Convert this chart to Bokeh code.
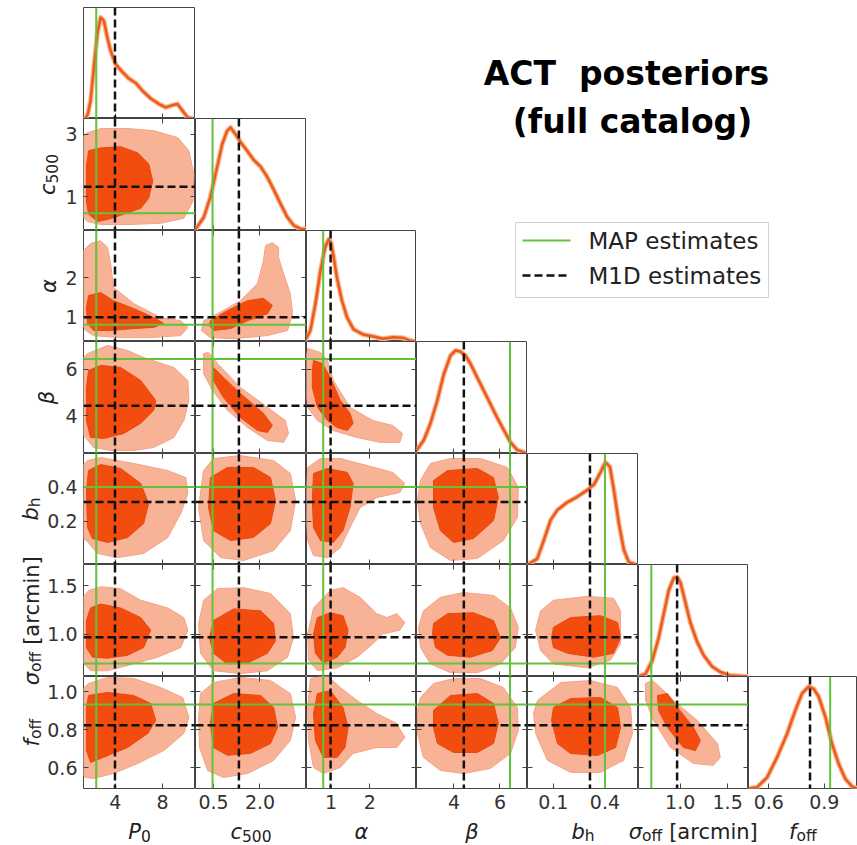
import math
from bokeh.plotting import figure
from bokeh.models import (Range1d, LinearAxis, FixedTicker, NumeralTickFormatter,
                          Span, GridBox)
from bokeh.core.properties import value
from bokeh.embed import file_html
from bokeh.resources import INLINE

# ---------------- data ----------------
PARAM_RANGES = [(1.3, 10.8), (-0.08, 3.5), (0.37, 3.2), (2.37, 7.2),
                (-0.05, 0.595), (0.56, 1.72), (0.49, 1.08)]
X_TICKS = [[4, 8], [0.5, 2.0], [1, 2], [4, 6], [0.1, 0.4], [1.0, 1.5], [0.6, 0.9]]
Y_TICKS = [[], [1, 3], [1, 2], [4, 6], [0.2, 0.4], [1.0, 1.5], [0.6, 0.8, 1.0]]
X_FMT = ["0", "0.0", "0", "0", "0.0", "0.0", "0.0"]
Y_FMT = ["0", "0", "0", "0", "0.0", "0.0", "0.0"]

MAP_VALUES = [2.38, 0.47, 0.80, 6.44, 0.40, 0.695, 0.932]
M1D_VALUES = [3.97, 1.32, 0.99, 4.43, 0.313, 0.967, 0.823]

# 1D marginals (normalised density)
P0_X = [1.47, 1.67, 1.9, 2.18, 2.47, 2.75, 3.03, 3.32, 3.6, 4.02, 4.59, 5.15, 5.73, 6.3, 7.0, 7.71, 8.28, 8.85, 9.27, 9.7, 10.13, 10.55]
P0_D = [0.0, 0.042, 0.16, 0.46, 0.76, 0.91, 0.88, 0.73, 0.61, 0.49, 0.42, 0.36, 0.32, 0.25, 0.18, 0.13, 0.10, 0.12, 0.13, 0.07, 0.01, 0.0]
C500_X = [-0.08, 0.19, 0.4, 0.62, 0.78, 0.94, 1.05, 1.21, 1.37, 1.59, 1.8, 2.02, 2.23, 2.45, 2.66, 2.88, 3.09, 3.31, 3.49]
C500_D = [0.01, 0.12, 0.30, 0.57, 0.77, 0.89, 0.92, 0.86, 0.79, 0.71, 0.63, 0.57, 0.48, 0.36, 0.24, 0.12, 0.045, 0.015, 0.01]
ALPHA_X = [0.34, 0.47, 0.6, 0.73, 0.85, 0.94, 1.0, 1.07, 1.15, 1.28, 1.41, 1.58, 1.83, 2.09, 2.34, 2.6, 2.85, 3.02, 3.15]
ALPHA_D = [0.01, 0.1, 0.34, 0.64, 0.85, 0.92, 0.89, 0.76, 0.58, 0.37, 0.22, 0.11, 0.063, 0.045, 0.024, 0.039, 0.033, 0.01, 0.003]
BETA_X = [2.37, 2.69, 2.98, 3.27, 3.56, 3.85, 4.07, 4.28, 4.5, 4.72, 5.01, 5.3, 5.59, 5.88, 6.17, 6.46, 6.75, 7.11]
BETA_D = [0.027, 0.12, 0.27, 0.47, 0.71, 0.875, 0.92, 0.91, 0.875, 0.8, 0.68, 0.56, 0.44, 0.32, 0.21, 0.1, 0.033, 0.006]
BH_X = [-0.042, 0.006, 0.045, 0.084, 0.123, 0.181, 0.239, 0.297, 0.336, 0.374, 0.403, 0.429, 0.452, 0.481, 0.51, 0.539, 0.578]
BH_D = [0.006, 0.05, 0.22, 0.4, 0.49, 0.56, 0.61, 0.67, 0.72, 0.83, 0.92, 0.88, 0.67, 0.37, 0.13, 0.02, 0.0]
SOFF_X = [0.563, 0.634, 0.704, 0.774, 0.826, 0.879, 0.932, 0.967, 1.002, 1.055, 1.107, 1.178, 1.247, 1.336, 1.423, 1.528, 1.72]
SOFF_D = [0.0, 0.024, 0.14, 0.35, 0.56, 0.77, 0.88, 0.89, 0.84, 0.66, 0.48, 0.31, 0.19, 0.09, 0.04, 0.009, 0.0]
FOFF_X = [0.492, 0.537, 0.591, 0.645, 0.699, 0.744, 0.78, 0.816, 0.843, 0.87, 0.906, 0.942, 0.978, 1.014, 1.05, 1.077]
FOFF_D = [0.0, 0.012, 0.1, 0.28, 0.49, 0.7, 0.85, 0.91, 0.89, 0.82, 0.64, 0.4, 0.22, 0.087, 0.018, 0.0]

# 2D credible contours (95% light, 68% dark), (x, y) in parameter units
C_P0_C500_95 = [(1.47, 3.02), (2.75, 3.18), (5.04, 3.18), (7.26, 3.11), (9.3, 2.89), (10.24, 2.47), (10.66, 1.73), (10.58, 0.85), (9.81, 0.31), (7.85, 0.15), (5.04, 0.11), (2.75, 0.11), (1.64, 0.21), (1.05, 0.44), (1.05, 2.79)]
C_P0_C500_68 = [(1.73, 2.47), (2.75, 2.56), (4.45, 2.6), (5.9, 2.4), (6.83, 2.05), (7.17, 1.5), (6.83, 0.95), (6.15, 0.63), (4.7, 0.44), (3.34, 0.27), (2.49, 0.21), (1.73, 0.44), (1.55, 0.85), (1.55, 1.98)]
C_P0_ALPHA_95 = [(1.9, 2.87), (2.75, 2.94), (3.34, 2.77), (3.6, 2.36), (3.85, 1.75), (5.55, 1.34), (7.85, 0.98), (9.55, 0.9), (10.15, 0.73), (9.55, 0.52), (7.0, 0.47), (4.19, 0.47), (2.15, 0.52), (1.47, 0.65), (1.05, 0.9), (1.05, 2.61)]
C_P0_ALPHA_68 = [(1.73, 1.54), (2.75, 1.62), (3.85, 1.41), (5.55, 1.21), (7.26, 0.98), (8.11, 0.83), (7.26, 0.73), (5.55, 0.7), (3.6, 0.65), (2.15, 0.65), (1.64, 0.83), (1.55, 1.24)]
C_P0_BETA_95 = [(1.64, 6.68), (3.34, 7.03), (5.04, 6.81), (6.4, 6.51), (8.96, 6.08), (10.15, 5.52), (10.24, 4.66), (9.81, 3.79), (8.96, 3.06), (7.26, 2.63), (5.55, 2.5), (3.6, 2.5), (2.15, 2.63), (1.47, 3.06), (1.05, 3.23), (1.05, 6.38)]
C_P0_BETA_68 = [(1.73, 5.95), (2.75, 6.17), (4.45, 6.08), (6.15, 5.52), (7.43, 4.66), (7.26, 4.23), (6.15, 3.67), (4.7, 3.23), (3.0, 3.02), (1.9, 3.06), (1.55, 3.79), (1.55, 5.22)]
C_P0_BH_95 = [(1.64, 0.554), (2.75, 0.572), (5.55, 0.537), (8.45, 0.496), (9.98, 0.455), (10.15, 0.362), (9.55, 0.246), (8.45, 0.107), (6.4, 0.014), (4.19, -0.01), (2.49, 0.014), (1.55, 0.089), (1.05, 0.107), (1.05, 0.514)]
C_P0_BH_68 = [(1.73, 0.496), (2.75, 0.531), (4.45, 0.508), (6.15, 0.421), (6.83, 0.304), (6.4, 0.188), (5.04, 0.107), (3.34, 0.078), (2.06, 0.101), (1.64, 0.165), (1.55, 0.38)]
C_P0_SOFF_95 = [(1.73, 1.45), (2.75, 1.49), (4.45, 1.47), (6.15, 1.35), (8.45, 1.27), (9.81, 1.17), (10.15, 1.04), (9.55, 0.86), (7.6, 0.76), (5.55, 0.69), (3.34, 0.62), (1.9, 0.62), (1.05, 0.73), (1.05, 1.35)]
C_P0_SOFF_68 = [(1.9, 1.27), (2.75, 1.31), (4.45, 1.27), (6.15, 1.17), (7.0, 1.04), (6.4, 0.86), (5.04, 0.78), (3.34, 0.75), (2.06, 0.76), (1.55, 0.86), (1.55, 1.14)]
C_P0_FOFF_95 = [(1.73, 1.043), (3.34, 1.075), (5.55, 1.07), (7.85, 1.022), (9.72, 0.969), (10.24, 0.864), (9.81, 0.78), (8.11, 0.69), (5.9, 0.622), (3.85, 0.569), (2.15, 0.543), (1.47, 0.548), (1.05, 0.569), (1.05, 1.006)]
C_P0_FOFF_68 = [(1.73, 0.98), (3.34, 0.996), (5.55, 0.98), (7.0, 0.938), (7.43, 0.848), (6.75, 0.78), (5.04, 0.706), (3.0, 0.654), (1.9, 0.627), (1.55, 0.69), (1.55, 0.917)]
C_C500_ALPHA_95 = [(0.18, 0.9), (0.63, 1.08), (1.37, 1.41), (1.92, 1.85), (2.11, 2.43), (2.18, 2.82), (2.4, 2.89), (2.6, 2.77), (2.6, 2.51), (2.76, 2.1), (2.98, 1.59), (3.05, 1.08), (2.89, 0.65), (2.24, 0.52), (1.15, 0.44), (0.4, 0.47), (0.11, 0.65)]
C_C500_ALPHA_68 = [(0.4, 0.9), (0.95, 1.16), (1.6, 1.41), (2.11, 1.47), (2.4, 1.29), (2.24, 1.08), (1.6, 0.9), (1.05, 0.7), (0.5, 0.65), (0.37, 0.78)]
C_C500_BETA_95 = [(0.18, 6.68), (0.34, 6.73), (0.63, 6.25), (1.37, 5.22), (2.24, 4.36), (2.82, 3.79), (2.92, 3.23), (2.76, 2.85), (2.24, 2.93), (1.6, 3.49), (0.95, 4.23), (0.47, 5.09), (0.18, 5.82)]
C_C500_BETA_68 = [(0.5, 6.08), (0.82, 5.65), (1.37, 4.96), (2.11, 4.1), (2.4, 3.58), (2.24, 3.28), (1.92, 3.36), (1.37, 3.92), (0.82, 4.79), (0.5, 5.52)]
C_C500_BH_95 = [(0.18, 0.496), (0.5, 0.566), (1.37, 0.583), (2.44, 0.554), (2.98, 0.479), (3.15, 0.322), (2.98, 0.147), (2.44, 0.031), (1.47, -0.027), (0.73, -0.01), (0.18, 0.089), (0.02, 0.281)]
C_C500_BH_68 = [(0.4, 0.455), (0.95, 0.514), (1.79, 0.514), (2.34, 0.455), (2.5, 0.322), (2.34, 0.188), (1.79, 0.107), (1.05, 0.089), (0.5, 0.147), (0.34, 0.281)]
C_C500_SOFF_95 = [(0.18, 1.35), (0.63, 1.47), (1.47, 1.48), (2.34, 1.42), (2.98, 1.21), (3.08, 0.96), (2.89, 0.76), (2.24, 0.62), (1.37, 0.59), (0.5, 0.62), (0.08, 0.8), (0.02, 1.11)]
C_C500_SOFF_68 = [(0.5, 1.14), (1.15, 1.26), (2.02, 1.24), (2.44, 1.11), (2.5, 0.93), (2.24, 0.8), (1.6, 0.7), (0.95, 0.69), (0.5, 0.8), (0.37, 0.96)]
C_C500_FOFF_95 = [(0.08, 0.99), (0.5, 1.048), (1.37, 1.075), (2.34, 1.059), (2.98, 0.99), (3.15, 0.864), (2.98, 0.743), (2.44, 0.638), (1.6, 0.569), (0.82, 0.548), (0.31, 0.585), (0.05, 0.706), (0.02, 0.864)]
C_C500_FOFF_68 = [(0.5, 0.938), (1.15, 0.99), (2.02, 0.98), (2.44, 0.917), (2.57, 0.812), (2.34, 0.727), (1.69, 0.675), (0.95, 0.665), (0.5, 0.706), (0.4, 0.832)]
C_ALPHA_BETA_95 = [(0.4, 6.9), (0.73, 6.73), (0.91, 6.38), (1.06, 5.52), (1.49, 4.36), (2.08, 3.79), (2.59, 3.58), (2.84, 3.23), (2.77, 2.85), (2.26, 2.85), (1.67, 3.06), (1.06, 3.36), (0.65, 3.79), (0.4, 4.36), (0.29, 5.95)]
C_ALPHA_BETA_68 = [(0.55, 6.38), (0.78, 6.25), (0.98, 5.65), (1.24, 4.66), (1.49, 4.1), (1.57, 3.67), (1.42, 3.36), (1.16, 3.49), (0.91, 3.79), (0.65, 4.36), (0.52, 5.22), (0.52, 5.95)]
C_ALPHA_BH_95 = [(0.4, 0.514), (0.73, 0.566), (1.24, 0.566), (1.93, 0.525), (2.59, 0.485), (2.9, 0.421), (2.77, 0.368), (2.18, 0.339), (1.75, 0.281), (1.49, 0.165), (1.24, 0.048), (0.91, -0.01), (0.55, 0.002), (0.4, 0.089), (0.34, 0.281)]
C_ALPHA_BH_68 = [(0.55, 0.479), (0.91, 0.508), (1.42, 0.485), (1.57, 0.421), (1.49, 0.281), (1.31, 0.147), (1.06, 0.078), (0.73, 0.089), (0.55, 0.165), (0.52, 0.322)]
C_ALPHA_SOFF_95 = [(0.55, 1.27), (0.98, 1.45), (1.31, 1.48), (1.75, 1.38), (2.18, 1.21), (2.44, 1.17), (2.69, 1.21), (2.9, 1.12), (2.77, 1.04), (2.33, 1.0), (2.08, 0.9), (1.67, 0.76), (1.16, 0.65), (0.65, 0.62), (0.42, 0.73), (0.4, 1.0)]
C_ALPHA_SOFF_68 = [(0.65, 1.17), (0.98, 1.22), (1.31, 1.19), (1.44, 1.04), (1.36, 0.86), (1.16, 0.76), (0.8, 0.7), (0.6, 0.8), (0.55, 1.0)]
C_ALPHA_FOFF_95 = [(0.47, 1.07), (0.91, 1.085), (1.24, 1.022), (1.67, 0.954), (2.18, 0.885), (2.69, 0.833), (2.9, 0.759), (2.69, 0.706), (2.18, 0.706), (1.57, 0.675), (1.24, 0.601), (0.8, 0.569), (0.55, 0.601), (0.42, 0.743), (0.4, 0.917)]
C_ALPHA_FOFF_68 = [(0.65, 0.99), (0.98, 1.006), (1.31, 0.917), (1.44, 0.812), (1.36, 0.706), (1.16, 0.654), (0.8, 0.654), (0.6, 0.743), (0.55, 0.885)]
C_BETA_BH_95 = [(2.54, 0.438), (2.98, 0.537), (3.85, 0.566), (5.15, 0.566), (6.33, 0.514), (6.8, 0.397), (6.76, 0.223), (6.15, 0.089), (5.02, -0.015), (3.85, -0.027), (2.98, 0.048), (2.54, 0.188), (2.41, 0.322)]
C_BETA_BH_68 = [(3.11, 0.438), (3.72, 0.496), (5.02, 0.508), (5.72, 0.455), (5.93, 0.339), (5.72, 0.205), (4.85, 0.101), (3.98, 0.078), (3.41, 0.147), (3.11, 0.281)]
C_BETA_SOFF_95 = [(2.67, 1.24), (3.41, 1.38), (4.41, 1.43), (5.72, 1.4), (6.46, 1.27), (6.8, 1.07), (6.67, 0.86), (6.02, 0.69), (5.02, 0.6), (3.85, 0.6), (2.98, 0.69), (2.54, 0.86), (2.46, 1.07)]
C_BETA_SOFF_68 = [(3.11, 1.11), (3.72, 1.21), (4.85, 1.22), (5.72, 1.14), (6.02, 0.96), (5.67, 0.83), (4.72, 0.76), (3.72, 0.78), (3.2, 0.86), (3.07, 1.0)]
C_BETA_FOFF_95 = [(2.54, 0.969), (3.11, 1.043), (3.98, 1.069), (5.15, 1.069), (6.15, 1.022), (6.76, 0.917), (6.8, 0.796), (6.46, 0.675), (5.59, 0.596), (4.41, 0.569), (3.41, 0.585), (2.67, 0.654), (2.41, 0.78), (2.41, 0.901)]
C_BETA_FOFF_68 = [(3.11, 0.901), (3.85, 0.98), (5.02, 0.99), (5.72, 0.938), (5.93, 0.833), (5.72, 0.727), (5.02, 0.68), (3.98, 0.68), (3.28, 0.727), (3.11, 0.812)]
C_BH_SOFF_95 = [(0.026, 1.24), (0.101, 1.35), (0.299, 1.39), (0.45, 1.37), (0.491, 1.24), (0.491, 0.9), (0.433, 0.73), (0.299, 0.65), (0.101, 0.69), (0.026, 0.83), (-0.003, 1.04)]
C_BH_SOFF_68 = [(0.101, 1.07), (0.2, 1.17), (0.374, 1.19), (0.473, 1.12), (0.491, 0.96), (0.45, 0.8), (0.334, 0.76), (0.183, 0.8), (0.101, 0.86), (0.09, 0.96)]
C_BH_FOFF_95 = [(0.008, 0.954), (0.142, 1.048), (0.316, 1.059), (0.473, 1.022), (0.549, 0.917), (0.56, 0.78), (0.508, 0.638), (0.374, 0.575), (0.2, 0.575), (0.066, 0.638), (-0.003, 0.78), (-0.015, 0.885)]
C_BH_FOFF_68 = [(0.101, 0.917), (0.2, 0.964), (0.374, 0.969), (0.473, 0.917), (0.491, 0.812), (0.462, 0.706), (0.357, 0.664), (0.2, 0.675), (0.124, 0.727), (0.09, 0.848)]
C_SOFF_FOFF_95 = [(0.634, 1.043), (0.707, 1.059), (0.792, 1.022), (0.928, 0.954), (1.181, 0.848), (1.392, 0.727), (1.423, 0.654), (1.349, 0.612), (1.139, 0.622), (0.897, 0.706), (0.718, 0.848), (0.634, 0.954)]
C_SOFF_FOFF_68 = [(0.76, 0.98), (0.865, 0.99), (0.971, 0.917), (1.139, 0.812), (1.213, 0.743), (1.16, 0.69), (1.034, 0.706), (0.865, 0.812), (0.771, 0.901)]

MARGINALS = [(P0_X, P0_D), (C500_X, C500_D), (ALPHA_X, ALPHA_D), (BETA_X, BETA_D),
             (BH_X, BH_D), (SOFF_X, SOFF_D), (FOFF_X, FOFF_D)]
CONTOURS = {
    (1, 0): (C_P0_C500_95, C_P0_C500_68),
    (2, 0): (C_P0_ALPHA_95, C_P0_ALPHA_68),
    (3, 0): (C_P0_BETA_95, C_P0_BETA_68),
    (4, 0): (C_P0_BH_95, C_P0_BH_68),
    (5, 0): (C_P0_SOFF_95, C_P0_SOFF_68),
    (6, 0): (C_P0_FOFF_95, C_P0_FOFF_68),
    (2, 1): (C_C500_ALPHA_95, C_C500_ALPHA_68),
    (3, 1): (C_C500_BETA_95, C_C500_BETA_68),
    (4, 1): (C_C500_BH_95, C_C500_BH_68),
    (5, 1): (C_C500_SOFF_95, C_C500_SOFF_68),
    (6, 1): (C_C500_FOFF_95, C_C500_FOFF_68),
    (3, 2): (C_ALPHA_BETA_95, C_ALPHA_BETA_68),
    (4, 2): (C_ALPHA_BH_95, C_ALPHA_BH_68),
    (5, 2): (C_ALPHA_SOFF_95, C_ALPHA_SOFF_68),
    (6, 2): (C_ALPHA_FOFF_95, C_ALPHA_FOFF_68),
    (4, 3): (C_BETA_BH_95, C_BETA_BH_68),
    (5, 3): (C_BETA_SOFF_95, C_BETA_SOFF_68),
    (6, 3): (C_BETA_FOFF_95, C_BETA_FOFF_68),
    (5, 4): (C_BH_SOFF_95, C_BH_SOFF_68),
    (6, 4): (C_BH_FOFF_95, C_BH_FOFF_68),
    (6, 5): (C_SOFF_FOFF_95, C_SOFF_FOFF_68),
}

TITLE_LINES = ["ACT\u00a0 posteriors", "(full catalog)"]
LEGEND_LABELS = ["MAP estimates", "M1D estimates"]

# axis titles: pieces of (text, font px, style, subscript drop px, leading gap in em)
MAIN, SUB, DROP = 21, 15.5, 2.5
LABEL_PIECES = [
    [("P", MAIN, "italic", 0, 0), ("0", SUB, "normal", DROP, 0)],
    [("c", MAIN, "italic", 0, 0), ("500", SUB, "normal", DROP, 0)],
    [("\u03b1", MAIN, "italic", 0, 0)],
    [("\u03b2", MAIN, "italic", 0, 0)],
    [("b", MAIN, "italic", 0, 0), ("h", SUB, "normal", DROP, 0)],
    [("\u03c3", MAIN, "italic", 0, 0), ("off", SUB, "normal", DROP, 0),
     ("[arcmin]", MAIN, "normal", 0, 0.318)],
    [("f", MAIN, "italic", 0, 0), ("off", SUB, "normal", DROP, 0)],
]
# page x of the rotated y-title baselines, rows 1..6
YLABEL_BASE_X = [None, 54, 55, 53, 37, 38, 38]
XLABEL_BASE_Y = 837.5
MID = 0.297   # em distance from the alphabetic baseline up to the em-box middle

# ---------------- layout / style ----------------
COL_W = [112, 111, 110, 111, 111, 110, 109]
ROW_H = [111, 112, 111, 112, 111, 112, 112]
LEFT_PAD, TOP_PAD, BOTTOM_PAD = 83, 7, 57
PAGE_W = LEFT_PAD + sum(COL_W)
PAGE_H = TOP_PAD + sum(ROW_H) + BOTTOM_PAD

FONT = "DejaVu Sans"
LIGHT, LIGHT_EDGE = "#f8b295", "#f3a386"
DARK, DARK_EDGE = "#f24c0e", "#e8490f"
CURVE, HALO = "#ec5a1c", "#f8b893"
GREEN = "#62c23a"
FRAME = "#444444"

EM = {'P': 0.603, 'c': 0.550, 'b': 0.635, 'f': 0.352, 'h': 0.634, 'o': 0.612,
      '0': 0.636, '5': 0.636, ' ': 0.318, '[': 0.390, ']': 0.390, 'a': 0.613,
      'r': 0.411, 'm': 0.974, 'i': 0.278, 'n': 0.634, '\u03b1': 0.659,
      '\u03b2': 0.635, '\u03c3': 0.634}


def text_w(s, size):
    return sum(EM.get(ch, 0.6) for ch in s) * size


def add_axis(p, side, ticks, fmt, show_labels):
    ax = LinearAxis(ticker=FixedTicker(ticks=ticks), formatter=NumeralTickFormatter(format=fmt))
    ax.major_tick_in = 5
    ax.major_tick_out = 0
    ax.major_tick_line_color = FRAME
    ax.minor_tick_line_color = None
    ax.axis_line_color = None
    if show_labels:
        ax.major_label_text_font = FONT
        ax.major_label_text_font_size = "19px"
        ax.major_label_text_color = "#333333"
        ax.major_label_standoff = 6
    else:
        ax.major_label_text_font_size = "0px"
        ax.major_label_text_color = None
        ax.major_label_standoff = 0
    p.add_layout(ax, side)


# panels sit in grid rows/cols 1..7; rows/cols 0 and 8 are empty so that the
# page overlay's frame starts exactly at the page corner
children = []
for r in range(7):
    for c in range(r + 1):
        yr = (0, 1.0) if r == c else PARAM_RANGES[r]
        p = figure(frame_width=COL_W[c], frame_height=ROW_H[r],
                   x_range=Range1d(*PARAM_RANGES[c]), y_range=Range1d(*yr),
                   output_backend="svg", toolbar_location=None,
                   x_axis_location=None, y_axis_location=None,
                   min_border=0,
                   min_border_left=LEFT_PAD if c == 0 else 0,
                   min_border_top=TOP_PAD if r == 0 else 0,
                   min_border_bottom=BOTTOM_PAD if r == 6 else 0,
                   min_border_right=0)
        p.xgrid.visible = False
        p.ygrid.visible = False
        p.outline_line_color = FRAME
        p.outline_line_width = 1
        p.background_fill_color = "white"
        p.border_fill_color = "white"

        if r == c:
            xs, ds = MARGINALS[c]
            p.line(xs, ds, line_color=HALO, line_width=5, line_join="round")
            p.line(xs, ds, line_color=CURVE, line_width=2.5, line_join="round")
            p.add_layout(Span(location=MAP_VALUES[c], dimension="height",
                              line_color=GREEN, line_width=2))
            p.add_layout(Span(location=M1D_VALUES[c], dimension="height",
                              line_color="#111111", line_width=2.5, line_dash="8 4"))
            add_axis(p, "below", X_TICKS[c], X_FMT[c], r == 6)
        else:
            c95, c68 = CONTOURS[(r, c)]
            p.patch([q[0] for q in c95], [q[1] for q in c95], fill_color=LIGHT,
                    line_color=LIGHT_EDGE, line_width=1, line_join="round")
            p.patch([q[0] for q in c68], [q[1] for q in c68], fill_color=DARK,
                    line_color=DARK_EDGE, line_width=1, line_join="round")
            p.add_layout(Span(location=MAP_VALUES[c], dimension="height",
                              line_color=GREEN, line_width=2))
            p.add_layout(Span(location=MAP_VALUES[r], dimension="width",
                              line_color=GREEN, line_width=2))
            p.add_layout(Span(location=M1D_VALUES[c], dimension="height",
                              line_color="#111111", line_width=2.5, line_dash="8 4"))
            p.add_layout(Span(location=M1D_VALUES[r], dimension="width",
                              line_color="#111111", line_width=2.5, line_dash="8 4"))
            add_axis(p, "below", X_TICKS[c], X_FMT[c], r == 6)
            add_axis(p, "above", X_TICKS[c], X_FMT[c], False)
            add_axis(p, "left", Y_TICKS[r], Y_FMT[r], c == 0)
            add_axis(p, "right", Y_TICKS[r], Y_FMT[r], False)
        children.append((p, r + 1, c + 1))

# ---------------- transparent page overlay: axis titles, title, legend ----------------
ov = figure(frame_width=PAGE_W, frame_height=PAGE_H,
            x_range=Range1d(0, PAGE_W), y_range=Range1d(PAGE_H, 0),
            output_backend="svg", toolbar_location=None,
            x_axis_location=None, y_axis_location=None, min_border=0,
            background_fill_color=None, border_fill_color=None,
            outline_line_color=None)
ov.xgrid.visible = False
ov.ygrid.visible = False


def put_text(x, y, t, size, style, rotated=False, align="left", color="#222222"):
    # (x, y) is the alphabetic baseline point; convert to the em-box middle
    if rotated:
        x, angle = x - MID * size, math.pi / 2
    else:
        y, angle = y - MID * size, 0.0
    ov.text(x=[x], y=[y], text=[t], angle=angle, text_font=value(FONT),
            text_font_size=value(f"{size}px"), text_font_style=style,
            text_align=align, text_baseline="middle", text_color=color)


# x titles (under the bottom row)
for c in range(7):
    pieces = LABEL_PIECES[c]
    total = sum(text_w(t, sz) + gap * sz for t, sz, st, dr, gap in pieces)
    cx = LEFT_PAD + sum(COL_W[:c]) + COL_W[c] / 2
    x = cx - total / 2
    for t, sz, st, dr, gap in pieces:
        x += gap * sz
        put_text(x, XLABEL_BASE_Y + dr, t, sz, st)
        x += text_w(t, sz)

# y titles (rotated, left of the first column)
for r in range(1, 7):
    pieces = LABEL_PIECES[r]
    total = sum(text_w(t, sz) + gap * sz for t, sz, st, dr, gap in pieces)
    cy = TOP_PAD + sum(ROW_H[:r]) + ROW_H[r] / 2
    y = cy + total / 2
    for t, sz, st, dr, gap in pieces:
        y -= gap * sz
        put_text(YLABEL_BASE_X[r] + dr, y, t, sz, st, rotated=True)
        y -= text_w(t, sz)

# figure title
put_text(626, 83, TITLE_LINES[0], 33, "bold", align="center", color="black")
put_text(632, 131, TITLE_LINES[1], 33, "bold", align="center", color="black")

# legend box
ov.quad(left=[515], right=[768], top=[222], bottom=[297], fill_color="white",
        fill_alpha=0.9, line_color="#d0d0d0", line_width=1)
ov.segment(x0=[522], x1=[570], y0=[240], y1=[240], line_color=GREEN, line_width=2)
ov.segment(x0=[522], x1=[570], y0=[275], y1=[275], line_color="#111111",
           line_width=2.5, line_dash="8 4")
ov.text(x=[588, 588], y=[240, 275], text=LEGEND_LABELS, text_font=value(FONT),
        text_font_size=value("23px"), text_align="left", text_baseline="middle",
        text_color="#222222")

children.append((ov, 0, 0, 9, 9))

grid = GridBox(children=children, spacing=0)

open("out.html", "w").write(file_html(grid, INLINE, title="ACT posteriors"))
